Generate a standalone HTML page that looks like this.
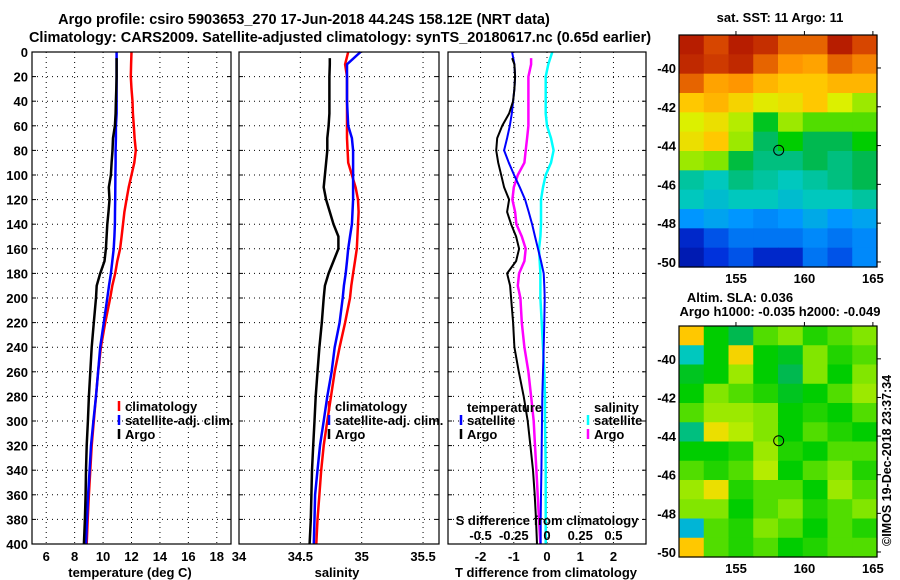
<!DOCTYPE html>
<html><head><meta charset="utf-8"><style>
html,body{margin:0;padding:0;background:#fff;}
svg{display:block;font-family:"Liberation Sans",Arial,sans-serif;font-weight:bold;}
text{font-size:13px;fill:#000;}
</style></head><body>
<svg id="fig" width="900" height="580" viewBox="0 0 900 580">
<rect x="0" y="0" width="900" height="580" fill="#fff"/>
<text x="304" y="24" text-anchor="middle" style="font-size:14.5px">Argo profile: csiro 5903653_270 17-Jun-2018 44.24S 158.12E (NRT data)</text>
<text x="340" y="42" text-anchor="middle" style="font-size:14.5px">Climatology: CARS2009. Satellite-adjusted climatology: synTS_20180617.nc (0.65d earlier)</text>
<g id="g1"></g>
<g id="g2"></g>
<g id="g3"></g>
<g id="m1"></g>
<g id="m2"></g>
<text x="780" y="22" text-anchor="middle">sat. SST: 11 Argo: 11</text>
<text x="740" y="302" text-anchor="middle">Altim. SLA: 0.036</text>
<text x="780" y="316" text-anchor="middle">Argo h1000: -0.035 h2000: -0.049</text>
<text transform="translate(891,546) rotate(-90)" style="font-size:12.5px">©IMOS 19-Dec-2018 23:37:34</text>
</svg>
<script>
// ---- data ----
const depthStd = [0,10,20,30,40,50,60,70,80,90,100,110,120,130,140,150,160,170,180,190,200,220,240,260,280,300,320,340,360,380,400];
const depthArgo = [5,10,20,30,40,50,60,70,80,90,100,110,120,130,140,150,160,170,180,190,200,220,240,260,280,300,320,340,360,380,400];
const tempClim = [12.0,11.97,11.95,12.0,12.07,12.1,12.16,12.22,12.3,12.2,12.0,11.8,11.65,11.5,11.4,11.3,11.2,11.0,10.85,10.65,10.5,10.15,9.85,9.65,9.5,9.35,9.2,9.1,9.0,8.92,8.85];
const tempSat = [10.95,10.95,10.95,10.95,10.95,10.95,10.9,10.9,10.88,10.88,10.87,10.86,10.85,10.84,10.83,10.8,10.75,10.65,10.55,10.42,10.3,10.05,9.8,9.65,9.5,9.32,9.15,9.05,8.95,8.87,8.8];
const tempArgo = [10.95,10.95,10.95,10.93,10.9,10.88,10.83,10.7,10.66,10.6,10.55,10.4,10.45,10.38,10.3,10.25,10.2,10.1,9.8,9.55,9.5,9.35,9.2,9.1,9.0,8.93,8.85,8.8,8.77,8.72,8.65];
const salClim = [34.89,34.865,34.88,34.88,34.88,34.88,34.88,34.88,34.885,34.89,34.92,34.95,34.97,34.975,34.97,34.965,34.96,34.945,34.93,34.915,34.905,34.865,34.82,34.78,34.75,34.72,34.69,34.67,34.655,34.64,34.63];
const salSat = [34.99,34.88,34.88,34.88,34.88,34.885,34.89,34.92,34.93,34.93,34.93,34.93,34.93,34.925,34.92,34.905,34.89,34.88,34.87,34.855,34.845,34.82,34.78,34.755,34.72,34.69,34.66,34.64,34.62,34.615,34.61];
const salArgo = [34.74,34.74,34.737,34.737,34.737,34.737,34.73,34.72,34.72,34.71,34.70,34.69,34.71,34.74,34.77,34.81,34.81,34.77,34.73,34.70,34.69,34.675,34.655,34.64,34.625,34.615,34.605,34.595,34.59,34.585,34.575];
const tDiffSat = [-1.05,-0.98,-0.96,-0.98,-1.02,-1.06,-1.12,-1.2,-1.29,-1.15,-0.99,-0.82,-0.66,-0.55,-0.45,-0.36,-0.27,-0.18,-0.1,-0.08,-0.07,-0.08,-0.1,-0.12,-0.14,-0.15,-0.16,-0.17,-0.18,-0.19,-0.19];
const tDiffArgo = [-1.05,-0.98,-0.96,-0.98,-1.02,-1.14,-1.35,-1.5,-1.53,-1.47,-1.38,-1.29,-1.14,-1.2,-1.08,-0.93,-0.84,-0.93,-1.2,-1.11,-1.08,-1.02,-0.98,-0.85,-0.7,-0.58,-0.5,-0.42,-0.37,-0.33,-0.3];
const sDiffSat = [0.04,0.01,-0.01,-0.01,-0.01,-0.01,0.0,0.03,0.05,0.03,-0.01,-0.03,-0.045,-0.045,-0.045,-0.05,-0.06,-0.055,-0.05,-0.05,-0.05,-0.04,-0.03,-0.02,-0.015,-0.015,-0.012,-0.01,-0.01,-0.01,-0.01];
const sDiffArgo = [-0.12,-0.12,-0.14,-0.14,-0.14,-0.14,-0.14,-0.15,-0.16,-0.17,-0.22,-0.25,-0.26,-0.24,-0.23,-0.19,-0.16,-0.17,-0.21,-0.22,-0.2,-0.19,-0.17,-0.14,-0.12,-0.1,-0.09,-0.08,-0.07,-0.06,-0.05];
const depthTicks = [0,20,40,60,80,100,120,140,160,180,200,220,240,260,280,300,320,340,360,380,400];
const tempTicks = [6,8,10,12,14,16,18];
const salTicks = [34,34.5,35,35.5];
const tDiffTicks = [-2,-1,0,1,2];
const sDiffTicks = [-0.5,-0.25,0,0.25,0.5];
const sDiffTickLabels = ["-0.5","-0.25","0","0.25","0.5"];
const latTicks = [-40,-42,-44,-46,-48,-50];
const lonTicks = [155,160,165];
const argoLon = 158.12, argoLat = -44.24;
const sstGrid = [
[0.95,0.88,0.95,0.92,0.85,0.85,0.95,0.88],
[0.93,0.9,0.93,0.85,0.8,0.78,0.85,0.82],
[0.85,0.78,0.8,0.75,0.72,0.72,0.75,0.75],
[0.72,0.75,0.7,0.66,0.68,0.72,0.65,0.6],
[0.65,0.68,0.62,0.48,0.6,0.55,0.55,0.55],
[0.68,0.72,0.6,0.44,0.5,0.45,0.45,0.5],
[0.6,0.58,0.46,0.42,0.42,0.45,0.42,0.45],
[0.4,0.38,0.42,0.4,0.38,0.4,0.42,0.45],
[0.38,0.36,0.38,0.38,0.36,0.38,0.38,0.4],
[0.3,0.32,0.3,0.28,0.3,0.33,0.3,0.32],
[0.12,0.2,0.25,0.25,0.25,0.28,0.25,0.28],
[0.08,0.15,0.2,0.12,0.12,0.25,0.2,0.28]];
const slaGrid = [
[0.72,0.5,0.45,0.55,0.58,0.52,0.55,0.58],
[0.38,0.5,0.7,0.5,0.48,0.58,0.52,0.55],
[0.48,0.5,0.6,0.5,0.45,0.58,0.5,0.58],
[0.5,0.58,0.55,0.52,0.48,0.5,0.55,0.6],
[0.55,0.6,0.6,0.58,0.5,0.52,0.5,0.55],
[0.42,0.68,0.62,0.58,0.5,0.55,0.52,0.5],
[0.5,0.5,0.52,0.6,0.52,0.5,0.55,0.55],
[0.55,0.52,0.55,0.62,0.5,0.55,0.58,0.52],
[0.6,0.68,0.52,0.55,0.55,0.5,0.6,0.55],
[0.58,0.58,0.5,0.55,0.58,0.52,0.55,0.58],
[0.35,0.55,0.52,0.58,0.55,0.5,0.55,0.52],
[0.72,0.55,0.52,0.55,0.5,0.52,0.55,0.55]];

const NS="http://www.w3.org/2000/svg";
function mk(parent, tag, attrs){const e=document.createElementNS(NS,tag);for(const k in attrs)e.setAttribute(k,attrs[k]);parent.appendChild(e);return e;}
const PT=52, PB=544;
const yD = d => PT + (d/400)*(PB-PT);

function panel(g, x0, x1, vmin, vmax, ticks, tickLabels, showY){
  const sx = v => x0 + (v-vmin)/(vmax-vmin)*(x1-x0);
  depthTicks.forEach((d,i)=>{
    if(d>0 && d<400){
      const l=mk(g,'line',{x1:x0,x2:x1,y1:yD(d),y2:yD(d),stroke:'#000','stroke-width':1,'stroke-dasharray':'1,4'});
      
      
    }
    const t1=mk(g,'line',{x1:x0,x2:x0+4,y1:yD(d),y2:yD(d),stroke:'#000'});
    
    
    const t2=mk(g,'line',{x1:x1-4,x2:x1,y1:yD(d),y2:yD(d),stroke:'#000'});
    
    
    if(showY){
      const t=mk(g,'text',{x:x0-4,y:yD(d)+5,'text-anchor':'end'});
      t.textContent=d;
      
      
    }
  });
  ticks.forEach((v,i)=>{
    const x=sx(v);
    if(x>x0+1 && x<x1-1){
      const l=mk(g,'line',{x1:x,x2:x,y1:PT,y2:PB,stroke:'#000','stroke-width':1,'stroke-dasharray':'1,4'});
      
      
    }
    if(tickLabels){
      const t=mk(g,'text',{x:x,y:561,'text-anchor':'middle'});
      t.textContent=tickLabels[i];
      
      
    }
  });
  return sx;
}
function series(g, sx, depths, vals, color, w, name){
  const pts=vals.map((v,i)=>sx(v).toFixed(1)+','+yD(depths[i]).toFixed(1)).join(' ');
  const p=mk(g,'polyline',{points:pts,fill:'none',stroke:color,'stroke-width':w,'stroke-linejoin':'round'});
  
  
}
function frame(g,x0,x1){
  const r=mk(g,'rect',{x:x0,y:PT,width:x1-x0,height:PB-PT,fill:'none',stroke:'#000','stroke-width':1.2});
  
  
}
function label(g,x,y,txt,name,anchor){
  const t=mk(g,'text',{x:x,y:y,'text-anchor':anchor||'start'});
  t.textContent=txt;
  
  
  return t;
}
function legTick(g,x,y,color,name){
  const l=mk(g,'line',{x1:x,x2:x,y1:y-10,y2:y,stroke:color,'stroke-width':2.5});
  
  
}

// Panel 1
const g1=document.getElementById('g1');
const sxT=panel(g1,32,231,5,19,tempTicks,tempTicks.map(String),true);
series(g1,sxT,depthStd,tempClim,'#ff0000',2.5,'temperature-climatology-line');
series(g1,sxT,depthStd,tempSat,'#0000ff',2.5,'temperature-satellite-line');
series(g1,sxT,depthArgo,tempArgo,'#000',2.5,'temperature-argo-line');
frame(g1,32,231);
label(g1,130,577,'temperature (deg C)','temperature-axis-title','middle');
legTick(g1,119,411,'#ff0000','legend-climatology-swatch');label(g1,125,411,'climatology','legend-climatology');
legTick(g1,119,425,'#0000ff','legend-satellite-swatch');label(g1,125,425,'satellite-adj. clim.','legend-satellite');
legTick(g1,119,439,'#000','legend-argo-swatch');label(g1,125,439,'Argo','legend-argo');

// Panel 2
const g2=document.getElementById('g2');
const sxS=panel(g2,239,439,34,35.63,salTicks,salTicks.map(String),false);
series(g2,sxS,depthStd,salClim,'#ff0000',2.5,'salinity-climatology-line');
series(g2,sxS,depthStd,salSat,'#0000ff',2.5,'salinity-satellite-line');
series(g2,sxS,depthArgo,salArgo,'#000',2.5,'salinity-argo-line');
frame(g2,239,439);
label(g2,337,577,'salinity','salinity-axis-title','middle');
legTick(g2,329,411,'#ff0000','legend-climatology-swatch');label(g2,335,411,'climatology','legend-climatology');
legTick(g2,329,425,'#0000ff','legend-satellite-swatch');label(g2,335,425,'satellite-adj. clim.','legend-satellite');
legTick(g2,329,439,'#000','legend-argo-swatch');label(g2,335,439,'Argo','legend-argo');

// Panel 3
const g3=document.getElementById('g3');
const sxD=panel(g3,448,646,-2.98,2.98,tDiffTicks,tDiffTicks.map(String),false);
const sxSD=v=>sxD(v*4);
series(g3,sxSD,depthStd,sDiffSat,'#00ffff',2.5,'salinity-diff-satellite-line');
series(g3,sxSD,depthArgo,sDiffArgo,'#ff00ff',2.5,'salinity-diff-argo-line');
series(g3,sxD,depthStd,tDiffSat,'#0000ff',2,'temperature-diff-satellite-line');
series(g3,sxD,depthArgo,tDiffArgo,'#000',2,'temperature-diff-argo-line');
frame(g3,448,646);
sDiffTicks.forEach((v,i)=>{label(g3,sxSD(v),540,sDiffTickLabels[i],'s-diff-tick-label','middle');});
label(g3,547,525,'S difference from climatology','s-diff-axis-title','middle');
label(g3,546,577,'T difference from climatology','t-diff-axis-title','middle');
label(g3,467,412,'temperature','legend-temperature-heading');
legTick(g3,461,425,'#0000ff','legend-t-satellite-swatch');label(g3,467,425,'satellite','legend-t-satellite');
legTick(g3,461,439,'#000','legend-t-argo-swatch');label(g3,467,439,'Argo','legend-t-argo');
label(g3,594,412,'salinity','legend-salinity-heading');
legTick(g3,588,425,'#00ffff','legend-s-satellite-swatch');label(g3,594,425,'satellite','legend-s-satellite');
legTick(g3,588,439,'#ff00ff','legend-s-argo-swatch');label(g3,594,439,'Argo','legend-s-argo');

// Maps
const stops=[[0,[0,0,130]],[0.15,[0,50,220]],[0.3,[0,150,255]],[0.38,[0,200,190]],[0.45,[0,185,80]],[0.5,[0,205,0]],[0.58,[130,230,0]],[0.65,[220,240,0]],[0.72,[255,200,0]],[0.8,[255,150,0]],[0.88,[215,70,0]],[1,[160,0,0]]];
function cmap(v){
  v=Math.max(0,Math.min(1,v));
  for(let i=1;i<stops.length;i++){if(v<=stops[i][0]){const a=stops[i-1],b=stops[i];const f=(v-a[0])/(b[0]-a[0]);const c=a[1].map((x,k)=>Math.round(x+(b[1][k]-x)*f));return 'rgb('+c.join(',')+')';}}
  return 'rgb(160,0,0)';
}
function drawMap(g,x0,y0,x1,y1,grid,showLon,cellName){
  const lonMin=150.84,lonMax=165.3,latTop=-38.3,latBot=-50.26;
  const sx=lon=>x0+(lon-lonMin)/(lonMax-lonMin)*(x1-x0);
  const sy=lat=>y0+(latTop-lat)/(latTop-latBot)*(y1-y0);
  const rows=grid.length,cols=grid[0].length;
  const cw=(x1-x0)/cols,ch=(y1-y0)/rows;
  grid.forEach((row,r)=>row.forEach((v,c)=>{
    const e=mk(g,'rect',{x:(x0+c*cw).toFixed(2),y:(y0+r*ch).toFixed(2),width:(cw+0.6).toFixed(2),height:(ch+0.6).toFixed(2),fill:cmap(v)});
    
    
  }));
  const fr=mk(g,'rect',{x:x0,y:y0,width:x1-x0,height:y1-y0,fill:'none',stroke:'#000','stroke-width':1.2});
  
  
  latTicks.forEach(lat=>{
    const y=sy(lat);
    const t=mk(g,'line',{x1:x1,x2:x1+4,y1:y,y2:y,stroke:'#000'});
    
    
    label(g,x0-3,y+5,String(lat),'lat-tick-label','end');
  });
  lonTicks.forEach(lon=>{
    const x=sx(lon);
    const t=mk(g,'line',{x1:x,x2:x,y1:y0-4,y2:y0,stroke:'#000'});
    
    
    label(g,x,y1+16,String(lon),'lon-tick-label','middle');
  });
  const c=mk(g,'circle',{cx:sx(argoLon),cy:sy(argoLat),r:5,fill:'none',stroke:'#000','stroke-width':1});
  
  
}
drawMap(document.getElementById('m1'),679,35,877,267,sstGrid,true,'sst-cell');
drawMap(document.getElementById('m2'),679,326,877,557,slaGrid,true,'sla-cell');
</script>
</body></html>
